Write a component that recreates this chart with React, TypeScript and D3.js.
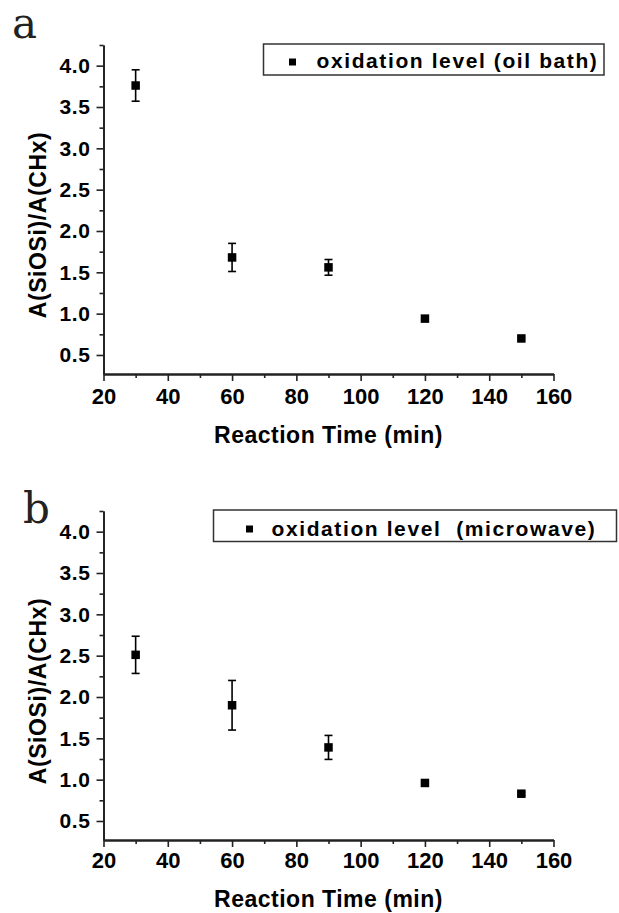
import { useEffect, useRef } from 'react';
import * as d3 from 'd3';

const width = 619;
const height = 913;

// reaction times (min)
const times = [30, 60, 90, 120, 150];
// panel a: oil bath
const oilBath = [3.76, 1.68, 1.56, 0.94, 0.7];
const oilBathErr = [0.19, 0.17, 0.095, 0, 0];
// panel b: microwave
const microwave = [2.51, 1.9, 1.39, 0.96, 0.83];
const microwaveErr = [0.225, 0.3, 0.145, 0, 0.02];

const xTicks = [20, 40, 60, 80, 100, 120, 140, 160];
const xMinor = [30, 50, 70, 90, 110, 130, 150];
const yTicks = [0.5, 1.0, 1.5, 2.0, 2.5, 3.0, 3.5, 4.0];
const yMinor = [0.75, 1.25, 1.75, 2.25, 2.75, 3.25, 3.75, 4.25];

const xLabel = 'Reaction Time (min)';
const yLabel = 'A(SiOSi)/A(CHx)';

const panels = [
  {
    letter: 'a', legend: 'oxidation level (oil bath)', values: oilBath, errors: oilBathErr,
    dy: 0, letterX: 12, letterY: 38, titleY: 443, tickPad: 7,
    box: { x: 263.5, y: 44, w: 340.5, h: 31 }, marker: { x: 292.5, y: 62 }, text: { x: 316.5, y: 67.5 },
  },
  {
    letter: 'b', legend: 'oxidation level  (microwave)', values: microwave, errors: microwaveErr,
    dy: 466, letterX: 23, letterY: 523, titleY: 907, tickPad: 5,
    box: { x: 213.5, y: 510, w: 403, h: 31.5 }, marker: { x: 249.5, y: 529 }, text: { x: 271.5, y: 535.5 },
  },
];

const font = '"Liberation Sans", Arial, sans-serif';

export default function App() {
  const ref = useRef<SVGSVGElement>(null);

  useEffect(() => {
    const svg = d3.select(ref.current);
    svg.selectAll('*').remove();

    const x = d3.scaleLinear().domain([20, 160]).range([103.5, 553.5]);

    panels.forEach(p => {
      const y = d3.scaleLinear().domain([0.27, 4.25]).range([374 + p.dy, 45 + p.dy]);
      const g = svg.append('g');
      const x0 = x.range()[0];
      const yBase = y.range()[0];

      // minor ticks
      g.append('g').attr('transform', `translate(0,${yBase})`)
        .call(d3.axisBottom(x).tickValues(xMinor).tickSize(4).tickSizeOuter(0).tickFormat(() => ''));
      g.append('g').attr('transform', `translate(${x0},0)`)
        .call(d3.axisLeft(y).tickValues(yMinor).tickSize(4).tickSizeOuter(0).tickFormat(() => ''));

      // major
      g.append('g').attr('class', 'xaxis').attr('transform', `translate(0,${yBase})`)
        .call(d3.axisBottom(x).tickValues(xTicks).tickSize(7).tickSizeOuter(0).tickPadding(p.tickPad)
          .tickFormat(d => String(d)));
      g.append('g').attr('class', 'yaxis').attr('transform', `translate(${x0},0)`)
        .call(d3.axisLeft(y).tickValues(yTicks).tickSize(7).tickSizeOuter(0).tickPadding(6)
          .tickFormat(d3.format('.1f')));

      g.selectAll('.domain').attr('stroke', '#222').attr('stroke-width', 1.8);
      g.selectAll('.tick line').attr('stroke', '#222').attr('stroke-width', 1.6);
      g.selectAll('.xaxis text').attr('font-size', 22).attr('font-family', font)
        .attr('font-weight', 'bold').attr('fill', '#000');
      g.selectAll('.yaxis text').attr('font-size', 21).attr('font-family', font)
        .attr('font-weight', 'bold').attr('fill', '#000').attr('letter-spacing', 0.6);

      // error bars
      const pts = times.map((t, i) => ({ t, v: p.values[i], e: p.errors[i] }));
      const eb = g.append('g').attr('stroke', '#000').attr('stroke-width', 1.6);
      pts.filter(d => d.e > 0).forEach(d => {
        const cx = x(d.t);
        eb.append('line').attr('x1', cx).attr('x2', cx).attr('y1', y(d.v - d.e)).attr('y2', y(d.v + d.e));
        [d.v - d.e, d.v + d.e].forEach(v => {
          eb.append('line').attr('x1', cx - 4).attr('x2', cx + 4).attr('y1', y(v)).attr('y2', y(v));
        });
      });

      // markers
      g.append('g').selectAll('rect').data(pts).join('rect')
        .attr('x', d => x(d.t) - 4.25).attr('y', d => y(d.v) - 4.25)
        .attr('width', 8.5).attr('height', 8.5).attr('fill', '#000');

      // axis titles
      g.append('text').attr('x', (x.range()[0] + x.range()[1]) / 2).attr('y', p.titleY)
        .attr('text-anchor', 'middle').attr('font-size', 23).attr('font-family', font)
        .attr('font-weight', 'bold').attr('letter-spacing', 0.5).attr('fill', '#000').text(xLabel);
      g.append('text').attr('transform', `translate(46,${225 + p.dy}) rotate(-90)`)
        .attr('text-anchor', 'middle').attr('font-size', 23).attr('font-family', font)
        .attr('font-weight', 'bold').attr('letter-spacing', 0.6).attr('fill', '#000').text(yLabel);

      // legend
      g.append('rect').attr('x', p.box.x).attr('y', p.box.y).attr('width', p.box.w).attr('height', p.box.h)
        .attr('fill', 'white').attr('stroke', '#333').attr('stroke-width', 1.5);
      g.append('rect').attr('x', p.marker.x - 3.5).attr('y', p.marker.y - 3.5)
        .attr('width', 7).attr('height', 7).attr('fill', '#000');
      g.append('text').attr('x', p.text.x).attr('y', p.text.y).attr('font-size', 21)
        .attr('font-family', font).attr('font-weight', 'bold').attr('letter-spacing', 1.6)
        .attr('fill', '#000').attr('xml:space', 'preserve').style('white-space', 'pre').text(p.legend);

      // panel letter
      g.append('text').attr('x', p.letterX).attr('y', p.letterY).attr('font-size', 42)
        .attr('font-family', '"DejaVu Serif", serif').attr('fill', '#222').text(p.letter);
    });
  }, []);

  return (
    <svg ref={ref} width={width} height={height}
      style={{ position: 'absolute', left: 0, top: 0, background: 'white' }} />
  );
}
